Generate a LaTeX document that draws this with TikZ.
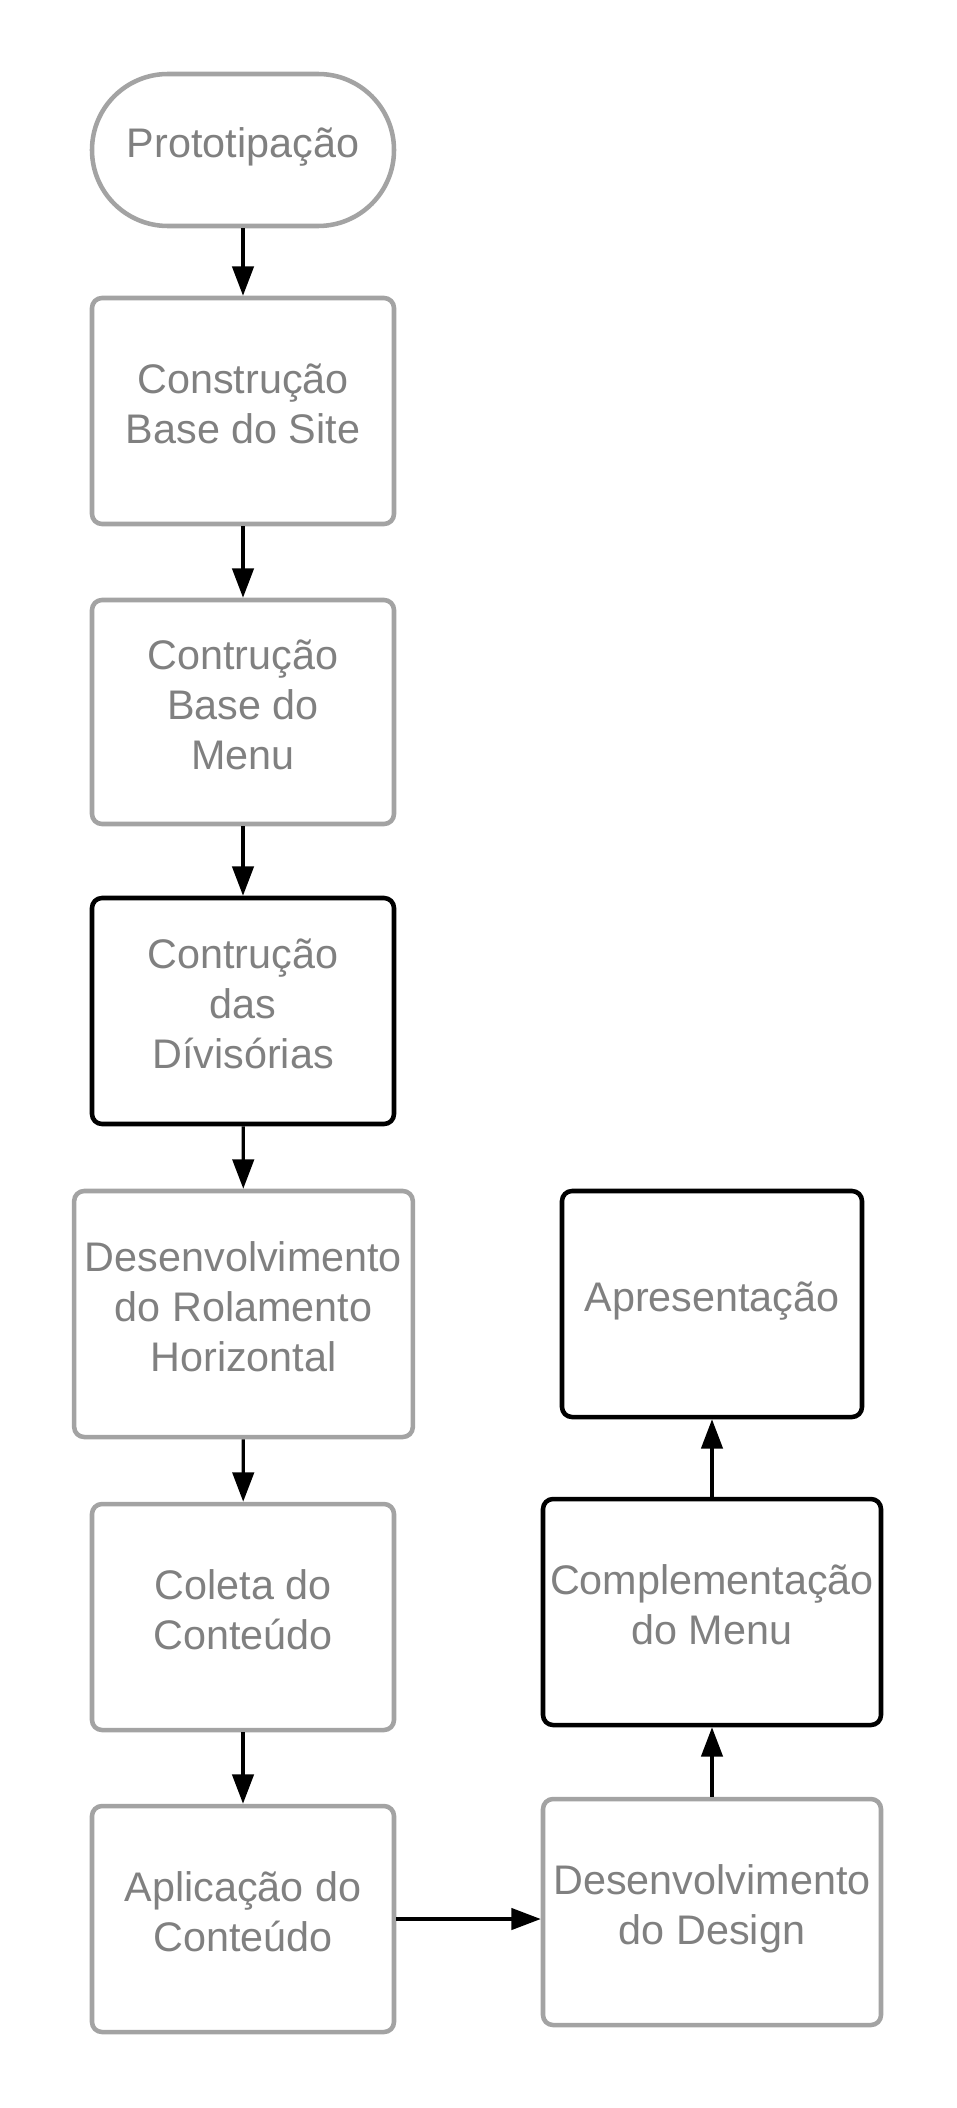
\documentclass[tikz,border=0pt]{standalone}
\usepackage{fontspec}
\setmainfont{Liberation Sans}
\usetikzlibrary{arrows.meta}
\definecolor{boxgray}{HTML}{A3A3A3}
\definecolor{textgray}{HTML}{808080}

\tikzset{every picture/.style={line width=0.75pt}}
\tikzset{
  stepbox/.style={draw=boxgray, line width=3.4pt, rounded corners=7.5pt, fill=white, text=textgray,
    align=center, inner sep=0pt, text depth=11pt, font=\fontsize{31}{37.5}\selectfont,
    minimum width=226.5pt, minimum height=169.5pt},
  keybox/.style={stepbox, draw=black},
  flowarrow/.style={line width=2.5pt, -{Triangle[length=22pt,width=16pt]}},
}

\begin{document}
\begin{tikzpicture}[x=0.75pt,y=0.75pt,yscale=-1,xscale=1]
\useasboundingbox (0,0) rectangle (956,2108);

%Shape: Terminator [id:proto]
\node [stepbox, rounded corners=56.9pt, minimum height=114pt] (proto) at (243,150) {Prototipação};
%Shape: Rounded Rect [id:site]
\node [stepbox] (site) at (243,411) {Construção\\Base do Site};
%Shape: Rounded Rect [id:menu]
\node [stepbox, minimum height=168pt] (menu) at (243,712) {Contrução\\Base do\\Menu};
%Shape: Rounded Rect [id:divis]
\node [keybox] (divis) at (243,1011) {Contrução\\das\\Dívisórias};
%Shape: Rounded Rect [id:rolam]
\node [stepbox, minimum width=254pt, minimum height=184.5pt] (rolam) at (243.5,1314) {Desenvolvimento\\do Rolamento\\Horizontal};
%Shape: Rounded Rect [id:coleta]
\node [stepbox] (coleta) at (243,1617) {Coleta do\\Conteúdo};
%Shape: Rounded Rect [id:aplic]
\node [stepbox] (aplic) at (243,1919) {Aplicação do\\Conteúdo};
%Shape: Rounded Rect [id:design]
\node [stepbox, minimum width=253.5pt] (design) at (712,1912) {Desenvolvimento\\do Design};
%Shape: Rounded Rect [id:compl]
\node [keybox, minimum width=253.5pt] (compl) at (712,1612) {Complementação\\do Menu};
%Shape: Rounded Rect [id:apres]
\node [keybox, minimum width=225pt] (apres) at (712,1304) {Apresentação};

%Straight Lines
\draw [flowarrow] (proto) -- (site);
\draw [flowarrow] (site) -- (menu);
\draw [flowarrow] (menu) -- (divis);
\draw [flowarrow] (divis) -- (rolam);
\draw [flowarrow] (rolam) -- (coleta);
\draw [flowarrow] (coleta) -- (aplic);
\draw [flowarrow] (aplic.east) -- (aplic.east -| design.west);
\draw [flowarrow] (design) -- (compl);
\draw [flowarrow] (compl) -- (apres);

\end{tikzpicture}
\end{document}
